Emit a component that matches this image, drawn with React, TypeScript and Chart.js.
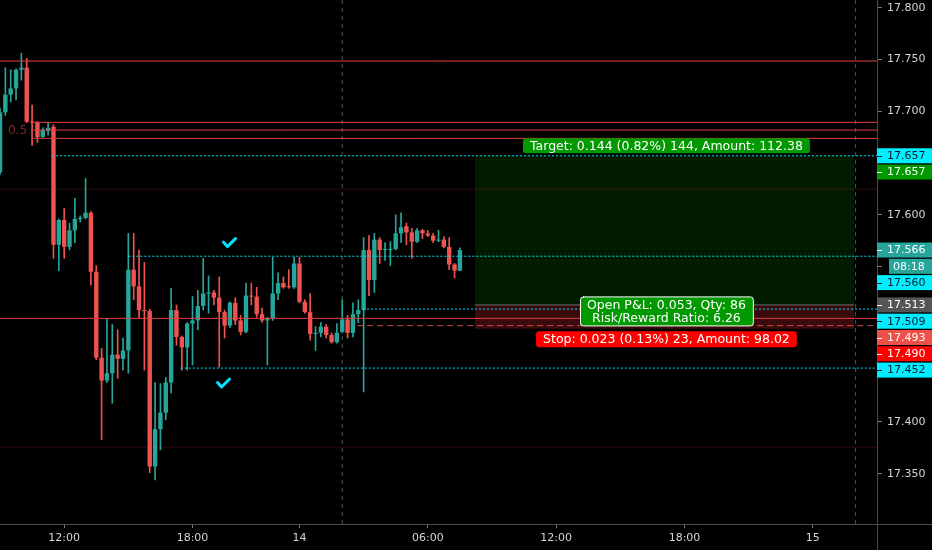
import React, { useEffect, useRef } from 'react';
import { Chart, registerables } from 'chart.js';

Chart.register(...registerables);

// ---- candle data (15-minute bars, index = bar number) ----
const opens = [
  17.641, 17.699, 17.716, 17.722, 17.740, 17.742, 17.690, 17.689, 17.675, 17.681,
  17.685, 17.571, 17.595, 17.569, 17.585, 17.596, 17.597, 17.602, 17.545, 17.462,
  17.440, 17.447, 17.465, 17.461, 17.469, 17.547, 17.531, 17.508, 17.507, 17.357,
  17.393, 17.409, 17.438, 17.508, 17.482, 17.472, 17.495, 17.498, 17.512, 17.524,
  17.525, 17.520, 17.506, 17.493, 17.515, 17.498, 17.487, 17.522, 17.521, 17.504,
  17.498, 17.500, 17.524, 17.534, 17.531, 17.530, 17.553, 17.516, 17.506, 17.485,
  17.486, 17.492, 17.484, 17.477, 17.487, 17.499, 17.486, 17.504, 17.508, 17.566,
  17.537, 17.576, 17.566, 17.566, 17.567, 17.582, 17.589, 17.583, 17.574, 17.585,
  17.582, 17.580, 17.575, 17.576, 17.569, 17.552, 17.546,
];
const highs = [
  17.703, 17.742, 17.740, 17.741, 17.756, 17.751, 17.706, 17.690, 17.684, 17.689,
  17.687, 17.596, 17.606, 17.592, 17.616, 17.599, 17.635, 17.603, 17.551, 17.471,
  17.500, 17.494, 17.489, 17.481, 17.582, 17.582, 17.566, 17.554, 17.509, 17.438,
  17.437, 17.443, 17.529, 17.513, 17.483, 17.496, 17.521, 17.527, 17.558, 17.541,
  17.527, 17.540, 17.508, 17.516, 17.520, 17.503, 17.534, 17.534, 17.530, 17.510,
  17.501, 17.559, 17.544, 17.540, 17.547, 17.559, 17.559, 17.518, 17.524, 17.492,
  17.496, 17.494, 17.486, 17.495, 17.518, 17.503, 17.515, 17.518, 17.578, 17.580,
  17.582, 17.578, 17.573, 17.574, 17.600, 17.602, 17.592, 17.587, 17.587, 17.586,
  17.585, 17.582, 17.585, 17.579, 17.578, 17.553, 17.568,
];
const lows = [
  17.639, 17.696, 17.709, 17.711, 17.730, 17.689, 17.667, 17.670, 17.675, 17.677,
  17.558, 17.546, 17.558, 17.566, 17.573, 17.593, 17.596, 17.532, 17.460, 17.383,
  17.438, 17.418, 17.442, 17.450, 17.447, 17.518, 17.500, 17.450, 17.351, 17.344,
  17.373, 17.402, 17.428, 17.474, 17.450, 17.450, 17.455, 17.489, 17.508, 17.505,
  17.513, 17.453, 17.481, 17.491, 17.494, 17.484, 17.486, 17.513, 17.501, 17.496,
  17.455, 17.498, 17.518, 17.529, 17.529, 17.529, 17.515, 17.505, 17.479, 17.469,
  17.482, 17.481, 17.476, 17.476, 17.486, 17.481, 17.482, 17.496, 17.429, 17.522,
  17.525, 17.553, 17.556, 17.551, 17.566, 17.573, 17.571, 17.558, 17.573, 17.577,
  17.579, 17.573, 17.574, 17.568, 17.547, 17.539, 17.546,
];
const closes = [
  17.699, 17.716, 17.722, 17.740, 17.742, 17.690, 17.689, 17.675, 17.682, 17.684,
  17.571, 17.595, 17.569, 17.585, 17.596, 17.597, 17.602, 17.545, 17.462, 17.440,
  17.447, 17.465, 17.461, 17.469, 17.547, 17.531, 17.508, 17.507, 17.357, 17.393,
  17.409, 17.438, 17.508, 17.482, 17.472, 17.495, 17.498, 17.512, 17.524, 17.525,
  17.520, 17.506, 17.493, 17.515, 17.498, 17.487, 17.522, 17.521, 17.504, 17.498,
  17.500, 17.524, 17.534, 17.530, 17.530, 17.553, 17.516, 17.506, 17.485, 17.486,
  17.492, 17.484, 17.477, 17.486, 17.499, 17.486, 17.504, 17.508, 17.566, 17.537,
  17.576, 17.566, 17.567, 17.567, 17.582, 17.588, 17.583, 17.574, 17.585, 17.582,
  17.580, 17.575, 17.576, 17.569, 17.552, 17.546, 17.566,
];

// ---- axes ----
const xMaxBar = 164;
const xTickPositions = [12, 36, 56, 80, 104, 128, 152];
const xTickLabels = ['12:00', '18:00', '14', '06:00', '12:00', '18:00', '15'];
const yMinPrice = 17.30145;
const yMaxPrice = 17.8074;
const yTickValues = [17.35, 17.4, 17.6, 17.7, 17.75, 17.8];
const sessionBreaks = [64, 160];

// ---- drawings ----
const solidRedLevels = [17.7485, 17.5];
const fibLevels = [17.6893, 17.6818, 17.6738];
const fibStart = 5.8;
const fibLabel = '0.5';
const faintLevels = [17.6247, 17.3756];
const dottedLevels = [17.657, 17.56, 17.509, 17.452];
const dottedStarts = [9.7, 24, 67.9, 33.8];
const dashedLevel = 17.493;
const dashedStart = 66.8;

// ---- long position tool ----
const entryPrice = 17.513;
const targetPrice = 17.657;
const stopPrice = 17.49;
const positionStart = 88.8;
const positionEnd = 159.7;
const targetText = 'Target: 0.144 (0.82%) 144, Amount: 112.38';
const pnlLines = ['Open P&L: 0.053, Qty: 86', 'Risk/Reward Ratio: 6.26'];
const stopText = 'Stop: 0.023 (0.13%) 23, Amount: 98.02';

// ---- check marks ----
const checkBars = [42.9, 41.8];
const checkPrices = [17.5727, 17.4371];

// ---- price-axis labels ----
const axisLabelValues = [17.657, 17.657, 17.566, 17.56, 17.513, 17.509, 17.493, 17.49, 17.452];
const axisLabelBg = ['#00eeff', '#009900', '#26a69a', '#00eeff', '#555555', '#00eeff', '#f0504a', '#ff0000', '#00eeff'];
const axisLabelFg = ['#0b1a2a', '#ffffff', '#ffffff', '#0b1a2a', '#ffffff', '#0b1a2a', '#ffffff', '#ffffff', '#0b1a2a'];
const countdownIndex = 2;
const countdownText = '08:18';

const UP = '#26a69a';
const DOWN = '#ef5350';
const RED_LINE = '#e04040';
const CYAN = '#00e5ff';
const FONT = '"DejaVu Sans", sans-serif';

function hLine(value: number, from: number, to: number, color: string, dash: number[], order: number, width = 1): any {
  return {
    type: 'line',
    data: [{ x: from, y: value }, { x: to, y: value }],
    borderColor: color,
    borderWidth: width,
    borderDash: dash,
    pointRadius: 0,
    fill: false,
    tension: 0,
    order,
  };
}

function roundRect(ctx: CanvasRenderingContext2D, x: number, y: number, w: number, h: number, r: number) {
  ctx.beginPath();
  ctx.moveTo(x + r, y);
  ctx.lineTo(x + w - r, y);
  ctx.arcTo(x + w, y, x + w, y + r, r);
  ctx.lineTo(x + w, y + h - r);
  ctx.arcTo(x + w, y + h, x + w - r, y + h, r);
  ctx.lineTo(x + r, y + h);
  ctx.arcTo(x, y + h, x, y + h - r, r);
  ctx.lineTo(x, y + r);
  ctx.arcTo(x, y, x + r, y, r);
  ctx.closePath();
}

const overlayPlugin: any = {
  id: 'overlay',
  beforeDraw(chart: any) {
    const { ctx, width, height } = chart;
    ctx.save();
    ctx.fillStyle = '#000';
    ctx.fillRect(0, 0, width, height);
    ctx.restore();
  },
  beforeDatasetsDraw(chart: any) {
    const { ctx, scales } = chart;
    ctx.save();
    ctx.font = `12px ${FONT}`;
    ctx.fillStyle = 'rgba(224,64,64,0.6)';
    ctx.textAlign = 'right';
    ctx.textBaseline = 'middle';
    ctx.fillText(fibLabel, scales.x.getPixelForValue(fibStart) - 4, scales.y.getPixelForValue(fibLevels[1]) + 1);
    ctx.restore();
  },
  afterDatasetsDraw(chart: any) {
    const { ctx, scales } = chart;
    const xs = scales.x;
    const ys = scales.y;
    ctx.save();
    // check marks
    ctx.strokeStyle = CYAN;
    ctx.lineWidth = 3;
    ctx.lineCap = 'round';
    ctx.lineJoin = 'round';
    checkBars.forEach((b, i) => {
      const cx = xs.getPixelForValue(b);
      const cy = ys.getPixelForValue(checkPrices[i]);
      ctx.beginPath();
      ctx.moveTo(cx - 6, cy - 1);
      ctx.lineTo(cx - 2, cy + 3.5);
      ctx.lineTo(cx + 6, cy - 4.5);
      ctx.stroke();
    });

    // position labels
    const mid = (xs.getPixelForValue(positionStart) + xs.getPixelForValue(positionEnd)) / 2 + 2;
    ctx.font = `12.5px ${FONT}`;
    ctx.textAlign = 'center';
    ctx.textBaseline = 'middle';

    // target
    let w = ctx.measureText(targetText).width + 14;
    let cy = ys.getPixelForValue(targetPrice) - 10;
    ctx.fillStyle = '#009900';
    roundRect(ctx, mid - w / 2, cy - 7.5, w, 15, 3);
    ctx.fill();
    ctx.fillStyle = '#ffffff';
    ctx.fillText(targetText, mid, cy + 0.5);

    // stop
    w = ctx.measureText(stopText).width + 14;
    cy = ys.getPixelForValue(stopPrice) + 10.5;
    ctx.fillStyle = '#ff0000';
    roundRect(ctx, mid - w / 2, cy - 8, w, 16, 3);
    ctx.fill();
    ctx.fillStyle = '#ffffff';
    ctx.fillText(stopText, mid, cy + 0.5);

    // open P&L
    w = Math.max(...pnlLines.map((t) => ctx.measureText(t).width)) + 14;
    cy = ys.getPixelForValue(entryPrice) + 6.5;
    ctx.fillStyle = '#009900';
    roundRect(ctx, mid - w / 2 + 0.5, cy - 14.5, w, 29, 3);
    ctx.fill();
    ctx.strokeStyle = '#ffffff';
    ctx.lineWidth = 1;
    ctx.stroke();
    ctx.fillStyle = '#ffffff';
    ctx.fillText(pnlLines[0], mid, cy - 6);
    ctx.fillText(pnlLines[1], mid, cy + 7);
    ctx.restore();
  },
  afterDraw(chart: any) {
    const { ctx, chartArea, scales, width, height } = chart;
    const ys = scales.y;
    const left = chartArea.right;
    ctx.save();
    // axis line extensions
    ctx.strokeStyle = '#4a4a4a';
    ctx.lineWidth = 1;
    ctx.beginPath();
    ctx.moveTo(left + 0.5, chartArea.bottom);
    ctx.lineTo(left + 0.5, height);
    ctx.moveTo(left, chartArea.bottom + 0.5);
    ctx.lineTo(width, chartArea.bottom + 0.5);
    ctx.stroke();

    // price labels
    const H = 16.3;
    let prev = -Infinity;
    ctx.font = `11px ${FONT}`;
    ctx.textBaseline = 'middle';
    ctx.textAlign = 'left';
    axisLabelValues.forEach((v, i) => {
      let y = ys.getPixelForValue(v);
      if (y < prev + H) y = prev + H;
      prev = y;
      ctx.fillStyle = axisLabelBg[i];
      ctx.fillRect(left, y - 7.5, width - left, 15);
      ctx.fillStyle = axisLabelFg[i];
      ctx.fillRect(left, Math.round(y), 5, 1);
      ctx.fillText(v.toFixed(3), left + 10, y + 0.5);
      if (i === countdownIndex) {
        const cy = y + H;
        ctx.fillStyle = '#787b86';
        ctx.fillRect(left, Math.round(cy), 5, 1);
        ctx.fillStyle = axisLabelBg[i];
        ctx.fillRect(left + 12, cy - 7.5, width - left - 12, 15);
        ctx.fillStyle = '#ffffff';
        ctx.fillText(countdownText, left + 16, cy + 0.5);
        prev = cy;
      }
    });
    ctx.restore();
  },
};

export default function App() {
  const canvasRef = useRef<HTMLCanvasElement | null>(null);

  useEffect(() => {
    const canvas = canvasRef.current;
    if (!canvas) return;

    const candleColors = opens.map((o, i) => (closes[i] >= o ? UP : DOWN));
    const bodies = opens.map((o, i) => ({ x: i, y: [o, closes[i]] }));
    const wicks = lows.map((l, i) => ({ x: i, y: [l, highs[i]] }));

    const datasets: any[] = [];
    // position zones
    datasets.push({
      type: 'line',
      data: [{ x: positionStart, y: targetPrice }, { x: positionEnd, y: targetPrice }],
      borderWidth: 0,
      pointRadius: 0,
      backgroundColor: 'rgba(0,150,0,0.18)',
      fill: { value: entryPrice },
      order: 12,
    });
    datasets.push({
      type: 'line',
      data: [{ x: positionStart, y: stopPrice }, { x: positionEnd, y: stopPrice }],
      borderWidth: 0,
      pointRadius: 0,
      backgroundColor: 'rgba(242,40,50,0.24)',
      fill: { value: entryPrice },
      order: 12,
    });
    datasets.push(hLine(entryPrice, positionStart, positionEnd, '#6a6a6a', [], 11));
    // session breaks
    sessionBreaks.forEach((b) => {
      datasets.push({
        type: 'line',
        data: [{ x: b, y: yMinPrice }, { x: b, y: yMaxPrice }],
        borderColor: '#555555',
        borderWidth: 1,
        borderDash: [4, 4],
        pointRadius: 0,
        fill: false,
        order: 10,
      });
    });
    faintLevels.forEach((v) => datasets.push(hLine(v, 0, xMaxBar, 'rgba(224,64,64,0.22)', [], 9)));
    // candles
    datasets.push({
      type: 'bar',
      data: wicks,
      backgroundColor: candleColors,
      barThickness: 1,
      grouped: false,
      borderWidth: 0,
      order: 3,
    });
    datasets.push({
      type: 'bar',
      data: bodies,
      backgroundColor: candleColors,
      barPercentage: 0.82,
      categoryPercentage: 1,
      minBarLength: 1,
      grouped: false,
      borderWidth: 0,
      order: 2,
    });
    // drawings on top
    solidRedLevels.forEach((v) => datasets.push(hLine(v, 0, xMaxBar, RED_LINE, [], 0)));
    fibLevels.forEach((v) => datasets.push(hLine(v, fibStart, xMaxBar, RED_LINE, [], 0)));
    dottedLevels.forEach((v, i) => datasets.push(hLine(v, dottedStarts[i], xMaxBar, CYAN, [2, 2], 0)));
    datasets.push(hLine(dashedLevel, dashedStart, xMaxBar, 'rgba(239,83,80,0.85)', [6, 4], 0));

    const chart = new Chart(canvas, {
      type: 'bar',
      data: { datasets },
      plugins: [overlayPlugin],
      options: {
        responsive: false,
        maintainAspectRatio: false,
        devicePixelRatio: 1,
        animation: false,
        layout: { padding: 0 },
        plugins: {
          legend: { display: false },
          tooltip: { enabled: false },
        },
        events: [],
        scales: {
          x: {
            type: 'linear',
            min: 0,
            max: xMaxBar,
            offset: false,
            grid: { display: true, drawOnChartArea: false, drawTicks: true, tickLength: 4, color: '#787b86', offset: false },
            border: { display: true, color: '#4a4a4a' },
            afterBuildTicks: (scale: any) => {
              scale.ticks = xTickPositions.map((v) => ({ value: v }));
            },
            afterFit: (scale: any) => {
              scale.height = 26;
              scale.paddingLeft = 0;
              scale.paddingRight = 0;
            },
            ticks: {
              autoSkip: false,
              maxRotation: 0,
              padding: 4,
              color: '#d1d4dc',
              font: { family: FONT, size: 11 },
              callback: (value: any) => {
                const k = xTickPositions.indexOf(Number(value));
                return k >= 0 ? xTickLabels[k] : '';
              },
            },
          },
          y: {
            type: 'linear',
            position: 'right',
            min: yMinPrice,
            max: yMaxPrice,
            beginAtZero: false,
            grid: { display: true, drawOnChartArea: false, drawTicks: true, tickLength: 5, color: '#787b86' },
            border: { display: true, color: '#4a4a4a' },
            afterBuildTicks: (scale: any) => {
              scale.ticks = yTickValues.map((v) => ({ value: v }));
            },
            afterFit: (scale: any) => {
              scale.width = 55;
              scale.paddingTop = 0;
              scale.paddingBottom = 0;
            },
            ticks: {
              padding: 5,
              color: '#d1d4dc',
              font: { family: FONT, size: 11 },
              callback: (value: any) => Number(value).toFixed(3),
            },
          },
        },
      } as any,
    });

    return () => chart.destroy();
  }, []);

  return (
    <div style={{ position: 'fixed', left: 0, top: 0, width: 932, height: 550, background: '#000' }}>
      <canvas ref={canvasRef} width={932} height={550} style={{ display: 'block' }} />
    </div>
  );
}
